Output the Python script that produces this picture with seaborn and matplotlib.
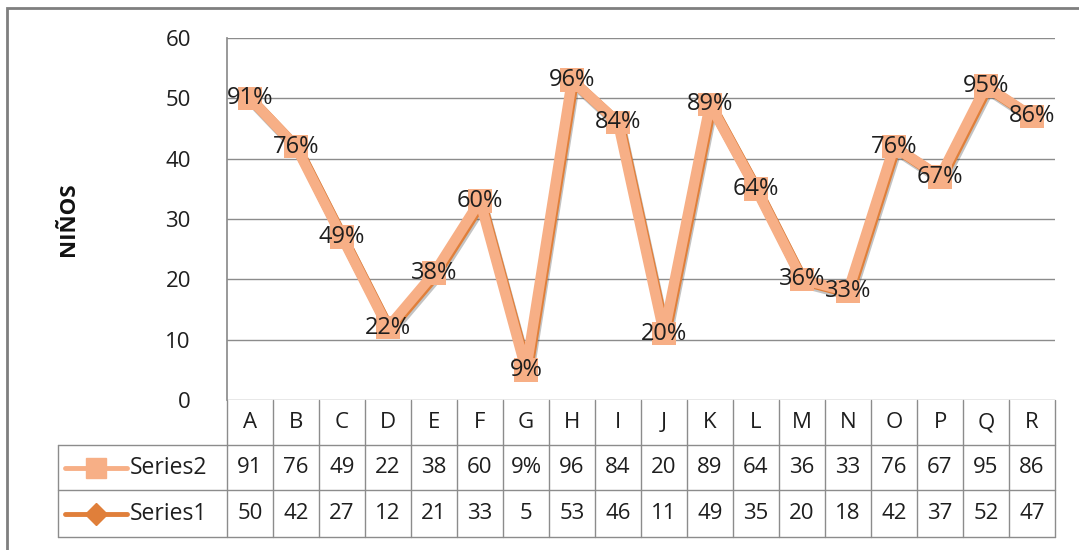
import numpy as np
import pandas as pd
import seaborn as sns
import matplotlib.pyplot as plt
import matplotlib.patheffects as pe
from matplotlib.lines import Line2D
from matplotlib.patches import Rectangle

categories = list("ABCDEFGHIJKLMNOPQR")
series1 = [50, 42, 27, 12, 21, 33, 5, 53, 46, 11, 49, 35, 20, 18, 42, 37, 52, 47]
series2 = [91, 76, 49, 22, 38, 60, 9, 96, 84, 20, 89, 64, 36, 33, 76, 67, 95, 86]
series2_table = ["91", "76", "49", "22", "38", "60", "9%", "96", "84", "20",
                 "89", "64", "36", "33", "76", "67", "95", "86"]

salmon = "#F7AF86"
dark = "#E07F3A"
grid = "#8C8C8C"
txt = "#1E1E1E"

sns.set_theme(style="white")
plt.rcParams["font.family"] = ["Open Sans", "DejaVu Sans"]

fig = plt.figure(figsize=(10.79, 5.5), dpi=100)
W, H = 1079, 550
ax = fig.add_axes([227 / W, 1 - 400 / H, (1055 - 227) / W, (400 - 38) / H])

df = pd.DataFrame({"cat": np.arange(len(categories)), "s1": series1})

sns.lineplot(data=df, x="cat", y="s1", ax=ax, color=salmon, lw=7.5,
             marker="s", markersize=17, markeredgewidth=0, zorder=3,
             path_effects=[pe.SimpleLineShadow(offset=(2, -3), shadow_color="#555555", alpha=0.35),
                           pe.SimpleLineShadow(offset=(1.2, -1.2), shadow_color=dark, alpha=1),
                           pe.Normal()])

for i, (y, p) in enumerate(zip(series1, series2)):
    ax.text(i, y, f"{p}%", ha="center", va="center", fontsize=17, color=txt, zorder=5)

ax.set_xlim(-0.5, len(categories) - 0.5)
ax.set_ylim(0, 60)
ax.set_yticks(range(0, 61, 10))
ax.set_xticks([])
ax.tick_params(axis="y", length=0, labelsize=16, pad=26, colors=txt)
ax.yaxis.grid(True, color=grid, lw=1)
ax.set_axisbelow(True)
for s in ["top", "right", "bottom"]:
    ax.spines[s].set_visible(False)
ax.spines["left"].set_color(grid)
ax.set_xlabel("")
ax.set_ylabel("NIÑOS", fontsize=16, fontweight="bold", labelpad=62, color="#111111")

# data table below the plot
tr = ax.get_xaxis_transform()
px = (400 - 38)
r0, r1, r2, r3 = 0, -45 / px, -90 / px, -137 / px
xl = (58 - 227) / 46 - 0.5
xr = len(categories) - 0.5
kw = dict(transform=tr, clip_on=False, color=grid, lw=1)
ax.add_line(Line2D([-0.5, -0.5], [r0, r3], **kw))
for i in range(len(categories)):
    ax.add_line(Line2D([i + 0.5, i + 0.5], [r0, r3], **kw))
for r in [r1, r2, r3]:
    ax.add_line(Line2D([xl, xr], [r, r], **kw))
ax.add_line(Line2D([xl, xl], [r1, r3], **kw))

for i, c in enumerate(categories):
    ax.text(i, (r0 + r1) / 2, c, transform=tr, ha="center", va="center", fontsize=16, color=txt)
    ax.text(i, (r1 + r2) / 2, series2_table[i], transform=tr, ha="center", va="center", fontsize=16, color=txt)
    ax.text(i, (r2 + r3) / 2, str(series1[i]), transform=tr, ha="center", va="center", fontsize=16, color=txt)

# legend keys inside the table
lx0 = (65 - 227) / 46 - 0.5
lx1 = (127 - 227) / 46 - 0.5
lt = (130 - 227) / 46 - 0.5
ym = (r1 + r2) / 2
ax.add_line(Line2D([lx0, lx1], [ym, ym], transform=tr, clip_on=False, color=salmon, lw=3.5))
ax.add_line(Line2D([(lx0 + lx1) / 2], [ym], transform=tr, clip_on=False, color=salmon,
                   marker="s", markersize=14, lw=0))
ax.text(lt, ym, "Series2", transform=tr, ha="left", va="center", fontsize=16.5, color=txt)
ym = (r2 + r3) / 2
ax.add_line(Line2D([lx0, lx1], [ym, ym], transform=tr, clip_on=False, color=dark, lw=3.5))
ax.add_line(Line2D([(lx0 + lx1) / 2], [ym], transform=tr, clip_on=False, color=dark,
                   marker="D", markersize=11, lw=0))
ax.text(lt, ym, "Series1", transform=tr, ha="left", va="center", fontsize=16.5, color=txt)

# outer chart border
fig.patches.append(Rectangle((7 / W, -0.1), 1.2, 1 - 8 / H + 0.1, transform=fig.transFigure,
                             fill=False, edgecolor="#7F7F7F", lw=2))

fig.savefig("out.png", dpi=100)
